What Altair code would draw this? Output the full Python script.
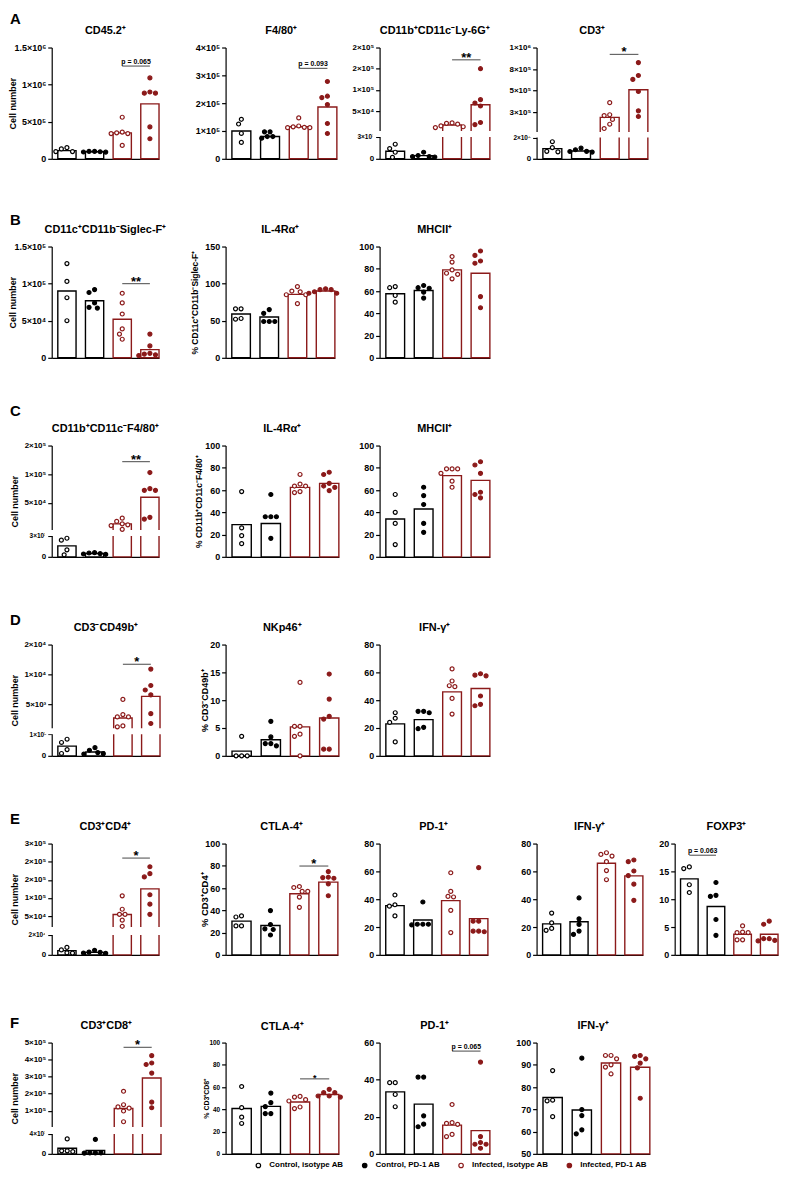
import json
import altair as alt
import numpy as np
import pandas as pd

FONT = "Liberation Sans"
RED = "#8B1A1A"
GROUPS = ["Control, isotype AB", "Control, PD-1 AB", "Infected, isotype AB", "Infected, PD-1 AB"]
FILL_RANGE = ["white", "black", "white", RED]
STROKE_RANGE = ["black", "black", RED, RED]

# ---------------- data ----------------
# Row A
A1_CI = [1.33e5, 0.97e5, 1.5e5, 0.97e5]
A1_CP = [1.0e5, 0.95e5, 0.9e5, 0.92e5, 1.0e5]
A1_II = [5.6e5, 3.6e5, 3.4e5, 3.4e5, 3.5e5, 1.8e5]
A1_IP = [10.9e5, 9.0e5, 8.85e5, 8.85e5, 4.3e5, 2.7e5]
A1_MEAN = [1.1e5, 0.95e5, 3.5e5, 7.4e5]
A1_TICKS = [0, 5e5, 1e6, 1.5e6]
A1_LABELS = ["0", "5×10⁵", "1×10⁶", "1.5×10⁶"]

A2_CI = [1.42e5, 1.25e5, 0.91e5, 0.59e5]
A2_CP = [0.97e5, 0.97e5, 0.8e5, 0.74e5, 0.8e5]
A2_II = [1.47e5, 1.18e5, 1.12e5, 1.12e5, 1.13e5, 1.15e5]
A2_IP = [2.78e5, 2.25e5, 2.2e5, 1.95e5, 1.27e5, 0.91e5]
A2_MEAN = [1.0e5, 0.8e5, 1.15e5, 1.86e5]
A2_TICKS = [0, 1e5, 2e5, 3e5, 4e5]
A2_LABELS = ["0", "1×10⁵", "2×10⁵", "3×10⁵", "4×10⁵"]

A3_CI = [2.0e3, 1.4e3, 0.2e3, 0.9e3]
A3_CP = [0.9e3, 0.45e3, 0.3e3, 0.25e3, 0.3e3]
A3_II = [2.2e4, 2.1e4, 1.5e4, 1.3e4, 1.1e4, 1.9e4]
A3_IP = [1.5e5, 7.7e4, 6.9e4, 6.2e4, 2.3e4, 1.8e4]
A3_MEAN = [1.04e3, 0.43e3, 1.7e4, 6.5e4]
A3_TICKS = [0, 3e3, 5e4, 1e5, 1.5e5, 2e5]
A3_LABELS = ["0", "3×10³", "5×10⁴", "1×10⁵", "2×10⁵", "2×10⁵"]

A4_CI = [1.05e4, 1.6e4, 0.65e4, 0.7e4]
A4_CP = [1.0e4, 0.85e4, 0.63e4, 0.7e4, 0.68e4]
A4_II = [3.6e5, 2.2e5, 2.1e5, 1.65e5, 1.1e5, 0.6e5]
A4_IP = [8.25e5, 6.75e5, 6.3e5, 4.9e5, 2.65e5, 2.0e5]
A4_MEAN = [0.95e4, 0.73e4, 1.9e5, 5.1e5]
A4_TICKS = [0, 2e4, 2.5e5, 5e5, 7.5e5, 1e6]
A4_LABELS = ["0", "2×10⁴", "3×10⁵", "5×10⁵", "8×10⁵", "1×10⁶"]

# Row B
B1_CI = [1.27e5, 1.03e5, 0.81e5, 0.5e5]
B1_CP = [0.92e5, 0.88e5, 0.74e5, 0.67e5, 0.68e5]
B1_II = [0.87e5, 0.74e5, 0.59e5, 0.39e5, 0.32e5, 0.25e5]
B1_IP = [3.2e4, 1.6e4, 0.5e4, 0.3e4, 0.4e4, 0.6e4]
B1_MEAN = [0.9e5, 0.77e5, 0.52e5, 1.1e4]
B1_TICKS = [0, 5e4, 1e5, 1.5e5]
B1_LABELS = ["0", "5×10⁴", "1×10⁵", "1.5×10⁵"]

B2_CI = [66, 66, 52, 53]
B2_CP = [65, 60, 49, 49, 49]
B2_II = [90, 96, 89, 85, 85, 73]
B2_IP = [92, 93, 92, 87, 87, 89]
B2_MEAN = [59, 55, 85.5, 90]
B2_TICKS = [0, 50, 100, 150]

B3_CI = [63, 64, 56, 50]
B3_CP = [65, 62.5, 59, 63, 53.7]
B3_II = [91, 86, 79, 76, 75, 71]
B3_IP = [96, 92, 85, 87, 55, 45]
B3_MEAN = [57.6, 60.5, 79, 76]
PCT_TICKS = [0, 20, 40, 60, 80, 100]

# Row C
C1_CI = [2.67e3, 2.39e3, 1.0e3, 0.29e3]
C1_CP = [0.6e3, 0.55e3, 0.4e3, 0.35e3, 0.45e3]
C1_II = [1.8e4, 2.36e4, 1.2e4, 1.37e4, 1.07e4, 0.42e4]
C1_IP = [1.03e5, 7.2e4, 7.2e4, 7.5e4, 2.2e4, 2.5e4]
C1_MEAN = [1.57e3, 0.47e3, 1.37e4, 6.0e4]
C1_TICKS = [0, 3e3, 5e4, 1e5, 1.5e5]
C1_LABELS = ["0", "3×10³", "5×10⁴", "1×10⁵", "2×10⁵"]

C2_CI = [58.6, 26, 19, 11.8]
C2_CP = [56, 36, 36, 36, 16.6]
C2_II = [74, 63.6, 63.6, 65.4, 57.7, 58.6]
C2_IP = [76, 74, 63.6, 62.4, 59.5, 66]
C2_MEAN = [28.9, 30, 62.4, 66]

C3_CI = [56, 40, 30, 11]
C3_CP = [62.5, 55, 47, 30, 22]
C3_II = [79, 79, 75, 79, 62.5, 68]
C3_IP = [85.4, 82.5, 75, 53, 58, 56]
C3_MEAN = [34, 43, 73, 68.7]

# Row D
D1_CI = [0.77e3, 0.62e3, 0.29e3, 0.11e3]
D1_CP = [0.38e3, 0.26e3, 0.15e3, 0.08e3, 0.1e3]
D1_II = [5.83e3, 3.29e3, 2.9e3, 2.9e3, 1.4e3, 1.24e3]
D1_IP = [1.09e4, 8.15e3, 6.6e3, 7.4e3, 3.45e3, 1.8e3]
D1_MEAN = [0.45e3, 0.18e3, 2.73e3, 6.33e3]
D1_TICKS = [0, 1e3, 5e3, 1e4, 1.5e4]
D1_LABELS = ["0", "1×10³", "5×10³", "1×10⁴", "2×10⁴"]

D2_CI = [3.5, 0, 0, 0]
D2_CP = [6.2, 3.4, 2.2, 1.8, 2.2]
D2_II = [13.2, 5.3, 5.3, 3.9, 3.5, 0]
D2_IP = [14.7, 10.2, 7.1, 6.6, 1.2, 1.2]
D2_MEAN = [0.85, 2.9, 5.2, 6.8]
D2_TICKS = [0, 5, 10, 15, 20]

D3_CI = [31, 27, 24, 10]
D3_CP = [32, 31, 32, 19.5, 20.5]
D3_II = [62.5, 53.8, 50.4, 49.7, 41.3, 30]
D3_IP = [59, 57.5, 58, 43, 36, 37]
D3_MEAN = [23, 26, 46, 48.4]
D3_TICKS = [0, 20, 40, 60, 80]

# Row E
E1_CI = [5.0e3, 1.8e3, 2.0e3, 7.5e3]
E1_CP = [4.5e3, 2.5e3, 1.8e3, 1.5e3, 2.8e3]
E1_II = [1.06e5, 6.9e4, 5.5e4, 5.5e4, 3.9e4, 2.2e4]
E1_IP = [1.86e5, 1.67e5, 1.58e5, 1.09e5, 8.3e4, 5.5e4]
E1_MEAN = [4.2e3, 2.5e3, 5.47e4, 1.25e5]
E1_TICKS = [0, 2e4, 5e4, 1e5, 1.5e5, 2e5, 2.5e5]
E1_LABELS = ["0", "2×10⁴", "5×10⁴", "1×10⁵", "2×10⁵", "2×10⁵", "3×10⁵"]

E2_CI = [35, 34, 26, 26]
E2_CP = [39.8, 27.3, 23.4, 22.8, 17.8]
E2_II = [61.4, 60.5, 57, 57, 51.9, 42.7]
E2_IP = [74.8, 69.7, 69.4, 68.8, 63.8, 53.1]
E2_MEAN = [30.3, 26.4, 54.9, 65.3]

E3_CI = [43, 36, 35, 28]
E3_CP = [38, 22, 21.5, 22, 22]
E3_II = [59, 45.6, 42, 41.6, 32, 16]
E3_IP = [62.7, 24.2, 24.2, 17, 16.6, 17]
E3_MEAN = [35.4, 25, 39, 26]

E4_CI = [30, 23, 17.6, 19]
E4_CP = [40.9, 25.9, 21.9, 14.7, 17.1]
E4_II = [73.4, 71, 72.2, 67, 60.6, 54]
E4_IP = [68.2, 67, 57, 60.3, 50.8, 39.2]
E4_MEAN = [22.3, 23.75, 65.8, 56.8]

E5_CI = [15.5, 15.8, 12.6, 11.2]
E5_CP = [13.0, 10.5, 10.7, 6.35, 3.5]
E5_II = [5.2, 4.0, 4.1, 4.0, 2.7, 2.7]
E5_IP = [6.05, 5.5, 2.9, 2.5, 2.6, 2.9]
E5_MEAN = [13.65, 8.7, 3.7, 3.7]

# Row F
F1_CI = [3.0e3, 0.6e3, 0.47e3, 0.6e3]
F1_CP = [2.9e3, 0.2e3, 0.15e3, 0.2e3, 0.2e3]
F1_II = [2.14e5, 1.35e5, 1.22e5, 1.15e5, 0.98e5, 0.35e5]
F1_IP = [4.23e5, 3.8e5, 3.71e5, 3.21e5, 1.5e5, 1.17e5]
F1_MEAN = [1.13e3, 0.67e3, 1.13e5, 2.92e5]
F1_TICKS = [0, 4e3, 1e5, 2e5, 3e5, 4e5, 5e5]
F1_LABELS = ["0", "4×10³", "1×10⁵", "2×10⁵", "3×10⁵", "4×10⁵", "5×10⁵"]

F2_CI = [60.5, 41.5, 33, 27.3]
F2_CP = [54.6, 46, 42.4, 36.2, 36.2]
F2_II = [51.6, 48.7, 51, 47.5, 40.7, 42.1]
F2_IP = [58, 55, 55, 52, 51, 52]
F2_MEAN = [40.7, 42.7, 46.6, 53.4]

F3_CI = [38.4, 38.4, 32, 25.4]
F3_CP = [41.4, 41.4, 20.5, 14.6, 16]
F3_II = [26.6, 16.4, 15.9, 16.8, 9.3, 10.5]
F3_IP = [49.5, 9.3, 5.2, 3, 5.2, 6.1]
F3_MEAN = [33.4, 26.8, 15.5, 12.5]
F3_TICKS = [0, 20, 40, 60]

F4_CI = [87.4, 74.1, 73.8, 66.7]
F4_CP = [93, 69.9, 67.2, 59, 60.8]
F4_II = [94.2, 94.2, 92.7, 90, 89, 85.9]
F4_IP = [94.2, 93.8, 92.7, 90.8, 88.6, 75]
F4_MEAN = [75.3, 69.7, 90.8, 88.9]
F4_TICKS = [50, 60, 70, 80, 90, 100]

ROW_LETTERS = ["A", "B", "C", "D", "E", "F"]

# ---------------- styling / layout ----------------
H = 112
XDOM = [-0.55, 3.33]
HALF = 0.33
NCOL = 6  # letter cell + up to 5 panels
LETTER_W = 1
NOVIEW = alt.ViewBackground(stroke=None, strokeWidth=0)

LEG = alt.Legend(
    title=None, orient="none", legendX=205, legendY=1121, direction="horizontal",
    labelFont=FONT, labelFontSize=8, labelFontWeight="bold", labelColor="black",
    symbolSize=20, symbolStrokeWidth=1.2, symbolType="circle",
    columnPadding=16, labelOffset=7,
)


def swarm(values, ymap, ppu, d=5.6):
    placed = []
    offs = [0.0] * len(values)
    cands = [0.0]
    for k in range(1, 12):
        cands += [-k * d / 2, k * d / 2]
    for i in sorted(range(len(values)), key=lambda j: -values[j]):
        y = ymap(values[i])
        for c in cands:
            if all((c - px) ** 2 + (y - py) ** 2 >= (d * 0.98) ** 2 for px, py in placed):
                offs[i] = c
                placed.append((c, y))
                break
    return [o / ppu for o in offs]


def panel(title, groups, means, ticks, labels=None, top=None, bottom=0, brk=None,
          ytitle=None, w=110, cell=None, ann=None, lab_fs=9, ytitle_fs=9, title_x=-32,
          title_fs=11):
    if cell is None:
        cell = w
    if labels is None:
        labels = [str(t) for t in ticks]
    if top is None:
        top = ticks[-1]
    if brk:
        L, lpx, upx = brk
        dom = [bottom, L, L * 1.000001, top]
        rng = [H, H - lpx, H - upx, 0]
        yscale = alt.Scale(domain=dom, range=rng, nice=False, zero=False)
    else:
        dom = [bottom, top]
        rng = [H, 0]
        yscale = alt.Scale(domain=dom, nice=False, zero=False)

    def ymap(v):
        return float(np.interp(v, dom, rng))

    ppu = w / (XDOM[1] - XDOM[0])
    expr = f"{json.dumps(labels, ensure_ascii=False)}[indexof({json.dumps([float(t) for t in ticks])}, datum.value)]"
    if brk:
        lfs = {"condition": {"test": f"datum.value > 0 && datum.value <= {brk[0]}", "value": 6.5},
               "value": lab_fs}
    else:
        lfs = lab_fs
    yaxis = alt.Axis(values=[float(t) for t in ticks], labelExpr=expr, grid=False,
                     tickSize=4, tickWidth=1.2, tickColor="black",
                     domainColor="black", domainWidth=1.2,
                     labelFont=FONT, labelFontSize=lfs, labelFontWeight="bold",
                     labelColor="black", labelPadding=2, labelOverlap=False, labelFlush=False,
                     titleFont=FONT, titleFontSize=ytitle_fs, titleFontWeight="bold",
                     titleColor="black", titleX=title_x, titleY=H / 2, zindex=0)
    xaxis = alt.Axis(labels=False, ticks=False, grid=False, domainColor="black",
                     domainWidth=1.2, title=None, zindex=0)
    xscale = alt.Scale(domain=XDOM, range=[0, w], nice=False, zero=False)

    def X(f):
        return alt.X(f, type="quantitative", scale=xscale, axis=xaxis, title=None)

    def Y(f):
        return alt.Y(f, type="quantitative", scale=yscale, axis=yaxis, title=ytitle)

    rows = []
    bars = []
    for gi, vals in enumerate(groups):
        offs = swarm(vals, ymap, ppu)
        for v, o in zip(vals, offs):
            rows.append({"x": gi + o, "v": v, "g": GROUPS[gi]})
        bars.append({"x": gi - HALF, "x2": gi + HALF, "v": means[gi], "b": bottom, "ctrl": gi < 2})
    pts = pd.DataFrame(rows)
    bdf = pd.DataFrame(bars)

    layers = []
    for ctrl, col in [(True, "black"), (False, RED)]:
        layers.append(
            alt.Chart(bdf[bdf.ctrl == ctrl].drop(columns="ctrl"))
            .mark_bar(fill="white", stroke=col, strokeWidth=1.4)
            .encode(x=X("x"), x2="x2", y=Y("v"), y2="b")
        )
    if brk:
        mdf = pd.DataFrame({"x": [XDOM[0] - 0.25], "x2": [XDOM[1] + 0.1],
                            "v": [brk[0]], "v2": [brk[0] * 1.000001]})
        layers.append(
            alt.Chart(mdf).mark_rect(fill="white", strokeWidth=0)
            .encode(x=X("x"), x2="x2", y=Y("v"), y2="v2")
        )
    layers.append(
        alt.Chart(pts).mark_circle(size=16, strokeWidth=1.2, opacity=1)
        .encode(
            x=X("x"), y=Y("v"),
            fill=alt.Fill("g:N", scale=alt.Scale(domain=GROUPS, range=FILL_RANGE), legend=LEG),
            stroke=alt.Stroke("g:N", scale=alt.Scale(domain=GROUPS, range=STROKE_RANGE), legend=LEG),
        )
    )
    if ann:
        i, j, yv, txt, fs = ann
        adf = pd.DataFrame({"x": [i], "x2": [j], "xm": [(i + j) / 2], "v": [yv], "t": [txt]})
        layers.append(
            alt.Chart(adf).mark_rule(color="#666666", strokeWidth=1.2)
            .encode(x=X("x"), x2="x2", y=Y("v"))
        )
        dy = 2 if txt.startswith("*") else -2
        layers.append(
            alt.Chart(adf).mark_text(font=FONT, fontSize=fs, fontWeight="bold",
                                     baseline="alphabetic", dy=dy, color="black")
            .encode(x=X("xm"), y=Y("v"), text="t:N")
        )
    return alt.layer(*layers).properties(
        width=cell, height=H, view=NOVIEW,
        title=alt.TitleParams(title, font=FONT, fontSize=title_fs, fontWeight="bold",
                              color="black", anchor="start", align="center", dx=w / 2,
                              frame="group", offset=8),
    )


def letter_cell(letter, dy):
    return (alt.Chart(pd.DataFrame({"t": [letter]}))
            .mark_text(font=FONT, fontSize=15, fontWeight="bold", align="left",
                       baseline="middle", color="black")
            .encode(x=alt.value(-41), y=alt.value(dy), text="t:N")
            .properties(width=LETTER_W, height=H, view=NOVIEW))


def blank():
    return (alt.Chart(pd.DataFrame({"t": [""]}))
            .mark_text(opacity=0)
            .encode(x=alt.value(0), y=alt.value(H / 2), text="t:N")
            .properties(width=1, height=H, view=NOVIEW))


def row(letter, dy, specs, axes):
    charts = [letter_cell(letter, dy)]
    for k, (args, kw) in enumerate(specs):
        cell = (axes[k + 1] - axes[k]) if k + 1 < len(axes) else kw.get("w", 110)
        charts.append(panel(*args, cell=cell, **kw))
    while len(charts) < NCOL:
        charts.append(blank())
    return charts


CN = "Cell number"

cells = []
cells += row(ROW_LETTERS[0], -29, [
    (("CD45.2⁺", [A1_CI, A1_CP, A1_II, A1_IP], A1_MEAN, A1_TICKS, A1_LABELS),
     dict(ytitle=CN, w=108, ann=(2, 3, 1.25e6, "p = 0.065", 7), title_x=-34)),
    (("F4/80⁺", [A2_CI, A2_CP, A2_II, A2_IP], A2_MEAN, A2_TICKS, A2_LABELS),
     dict(w=112, ann=(2, 3, 3.25e5, "p = 0.093", 7))),
    (("CD11b⁺CD11c⁻Ly-6G⁺", [A3_CI, A3_CP, A3_II, A3_IP], A3_MEAN, A3_TICKS, A3_LABELS),
     dict(brk=(3e3, 22, 28), w=111, ann=(2, 3, 1.71e5, "**", 13), lab_fs=8)),
    (("CD3⁺", [A4_CI, A4_CP, A4_II, A4_IP], A4_MEAN, A4_TICKS, A4_LABELS),
     dict(brk=(2e4, 21.5, 27), w=112, ann=(2, 3, 9.2e5, "*", 13), lab_fs=8)),
], [50, 221, 376, 526])

cells += row(ROW_LETTERS[1], -27, [
    (("CD11c⁺CD11b⁻Siglec-F⁺", [B1_CI, B1_CP, B1_II, B1_IP], B1_MEAN, B1_TICKS, B1_LABELS),
     dict(ytitle=CN, w=108, ann=(2, 3, 1e5, "**", 13), title_x=-34)),
    (("IL-4Rα⁺", [B2_CI, B2_CP, B2_II, B2_IP], B2_MEAN, B2_TICKS),
     dict(ytitle="% CD11c⁺CD11b⁻Siglec-F⁺", w=110, ytitle_fs=8.5, title_x=-26)),
    (("MHCII⁺", [B3_CI, B3_CP, B3_II, B3_IP], B3_MEAN, PCT_TICKS), dict(w=111)),
], [50, 225, 376])

cells += row(ROW_LETTERS[2], -35, [
    (("CD11b⁺CD11c⁻F4/80⁺", [C1_CI, C1_CP, C1_II, C1_IP], C1_MEAN, C1_TICKS, C1_LABELS),
     dict(brk=(3e3, 21, 27), ytitle=CN, w=108, ann=(2, 3, 1.22e5, "**", 13), lab_fs=8)),
    (("IL-4Rα⁺", [C2_CI, C2_CP, C2_II, C2_IP], C2_MEAN, PCT_TICKS),
     dict(ytitle="% CD11b⁺CD11c⁻F4/80⁺", w=114, ytitle_fs=8.5, title_x=-22)),
    (("MHCII⁺", [C3_CI, C3_CP, C3_II, C3_IP], C3_MEAN, PCT_TICKS), dict(w=111)),
], [50, 223, 376])

cells += row(ROW_LETTERS[3], -25, [
    (("CD3⁻CD49b⁺", [D1_CI, D1_CP, D1_II, D1_IP], D1_MEAN, D1_TICKS, D1_LABELS),
     dict(brk=(1e3, 21.7, 27.7), ytitle=CN, w=109, ann=(2, 3, 1.17e4, "*", 13), lab_fs=8)),
    (("NKp46⁺", [D2_CI, D2_CP, D2_II, D2_IP], D2_MEAN, D2_TICKS),
     dict(ytitle="% CD3⁻CD49b⁺", w=114, ytitle_fs=9, title_x=-16)),
    (("IFN-γ⁺", [D3_CI, D3_CP, D3_II, D3_IP], D3_MEAN, D3_TICKS), dict(w=111)),
], [50, 223, 376])

cells += row(ROW_LETTERS[4], -25, [
    (("CD3⁺CD4⁺", [E1_CI, E1_CP, E1_II, E1_IP], E1_MEAN, E1_TICKS, E1_LABELS),
     dict(brk=(2e4, 20, 28), ytitle=CN, w=108, ann=(2, 3, 2.1e5, "*", 13), lab_fs=8)),
    (("CTLA-4⁺", [E2_CI, E2_CP, E2_II, E2_IP], E2_MEAN, PCT_TICKS),
     dict(ytitle="% CD3⁺CD4⁺", w=113, ann=(2, 3, 79.8, "*", 13), ytitle_fs=9.5, title_x=-16)),
    (("PD-1⁺", [E3_CI, E3_CP, E3_II, E3_IP], E3_MEAN, D3_TICKS), dict(w=109)),
    (("IFN-γ⁺", [E4_CI, E4_CP, E4_II, E4_IP], E4_MEAN, D3_TICKS), dict(w=107)),
    (("FOXP3⁺", [E5_CI, E5_CP, E5_II, E5_IP], E5_MEAN, D2_TICKS),
     dict(w=104, ann=(0, 1, 17.9, "p = 0.063", 7))),
], [50, 222, 376, 534, 673])

cells += row(ROW_LETTERS[5], -20, [
    (("CD3⁺CD8⁺", [F1_CI, F1_CP, F1_II, F1_IP], F1_MEAN, F1_TICKS, F1_LABELS),
     dict(brk=(4e3, 20, 27), ytitle=CN, w=110, ann=(2, 3, 4.72e5, "*", 13), lab_fs=8)),
    (("CTLA-4⁺", [F2_CI, F2_CP, F2_II, F2_IP], F2_MEAN, PCT_TICKS),
     dict(ytitle="% CD3⁺CD8⁺", w=114, ann=(2, 3, 67.4, "*", 9), lab_fs=6.5, ytitle_fs=7,
          title_x=-16)),
    (("PD-1⁺", [F3_CI, F3_CP, F3_II, F3_IP], F3_MEAN, F3_TICKS),
     dict(w=111, ann=(2, 3, 55.4, "p = 0.065", 7))),
    (("IFN-γ⁺", [F4_CI, F4_CP, F4_II, F4_IP], F4_MEAN, F4_TICKS), dict(bottom=50, w=114)),
], [50, 222, 376, 527])

chart = alt.concat(*cells, columns=NCOL, spacing={"row": 88.3, "column": 0},
                   bounds="flush", align="none")
chart = (chart.properties(padding=0)
         .configure_view(stroke=None, strokeWidth=0)
         .configure(background="white"))

chart.save("out.html", embed_options={"renderer": "svg", "actions": False})
